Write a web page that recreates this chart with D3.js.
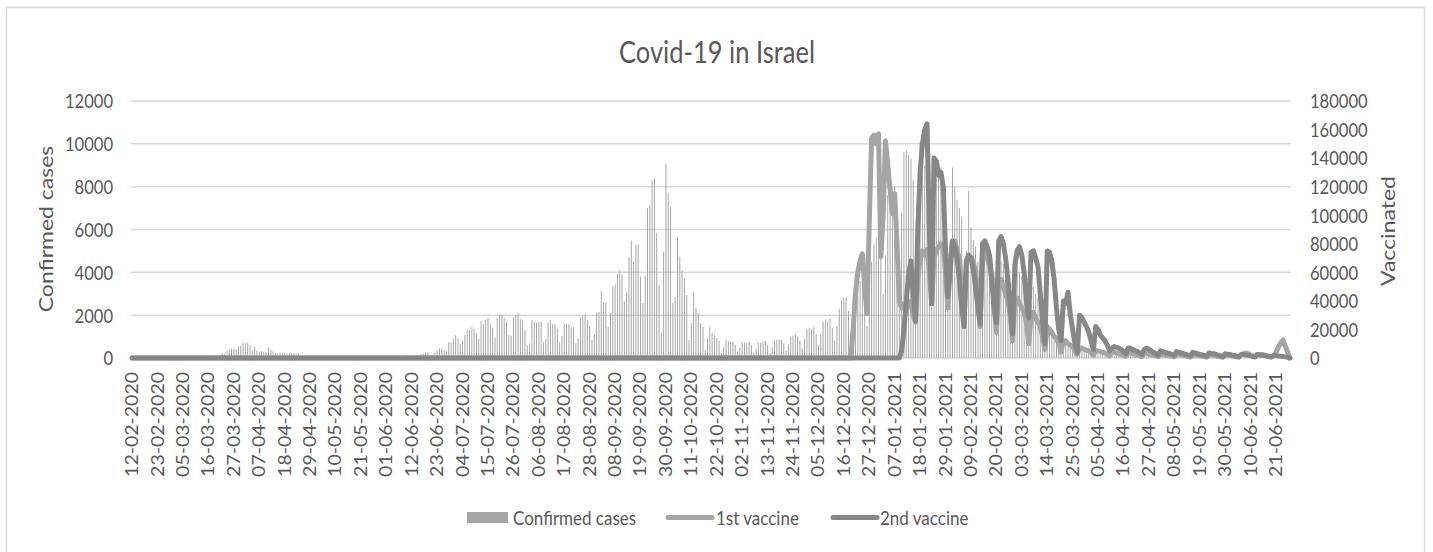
<!DOCTYPE html>
<html>
<head>
<meta charset="utf-8">
<script src="https://cdn.jsdelivr.net/npm/d3@7"></script>
<style>
  html, body { margin: 0; padding: 0; background: #fff; }
  svg text { font-family: Lato, "Open Sans", sans-serif; fill: #595959; }
</style>
</head>
<body>
<svg id="chart" width="1433" height="552"></svg>
<script>
// ---- data -------------------------------------------------------------
// daily series starting 12-02-2020
const startDate = "12-02-2020";

// confirmed cases per day, 12-02-2020 .. 27-06-2021
const confirmedCases = [
  0,0,0,0,0,0,0,0,1,0,0,1,0,1,1,0,0,0,
  3,0,2,1,3,5,4,6,14,12,21,26,25,48,
  52,95,100,130,110,140,
  150,200,180,320,380,420,440,400,530,560,700,690,710,
  600,360,530,330,280,320,300,280,500,400,
  300,230,210,250,220,240,200,210,190,230,180,200,
  60,70,50,45,40,30,25, 40,35,30,20,15,25,20, 20,15,10,20,15,10,8, 15,10,12,20,15,25,18,
  20,30,25,40,30,60,50, 80,70,60,90,80,60,40, 70,90,80,60,
  140,130,60,80,110,140,190,200,250,260,150,120,
  265,370,450,450,370,330,730,730,920,1070,920,650,
  800,1070,1340,1310,1460,1360,1150,
  900,1700,1590,1780,1870,1590,1420,
  950,1870,2000,2000,1870,1700,1070,
  1030,1900,2000,2100,1820,1760,1310,
  580,680,1760,1700,1650,1670,1700,
  730,890,1650,1760,1590,1590,1360,
  730,1030,1590,1590,1590,1430,1460,
  680,920,1870,1950,2030,1780,1500,
  850,1100,2100,2150,3140,2580,2580,
  1450,2100,3330,3440,3950,4100,3900,
  2630,3080,4720,5480,4500,5300,5300,
  3800,2560,3830,7000,7140,8300,8390,
  5830,3400,1170,4950,9060,7700,7050,
  2560,2850,5650,4720,4100,3730,2940,
  840,1630,3080,2330,2100,1630,1450,
  370,930,1450,1160,1070,930,800,
  230,
  500,850,800,750,760,620,300,
  480,750,720,700,780,600,250,
  450,720,700,750,800,600,230,
  500,800,850,870,860,700,350,
  650,1000,1050,1100,1000,800,450,
  900,1350,1400,1350,1450,1100,600,
  1100,1700,1800,1700,1850,1400,800,
  1500,2300,2700,2800,2800,2200,1100,
  2300,3000,3400,3600,3500,2900,1500,
  2700,4500,5300,5600,5400,4700,3000,
  4800,7600,8200,7800,8000,6500,4000,
  6800,9600,9700,9500,9300,8300,5500,
  8000,10100,9800,9000,8500,7800,5000,
  6500,8900,8600,8900,8400,8000,4500,
  5500,8900,8000,7400,7000,6600,3500,
  5000,7800,6100,5500,5200,4500,2500,
  3800,5400,5000,4800,4700,4000,2000,
  3000,4500,4400,4200,4000,3500,1800,
  2800,4800,4000,3800,3500,3000,1500,
  2500,3300,3000,2800,2500,2000,900,
  1400,1500,1300,1100,1000,700,400,
  600,900,800,600,500,400,200,
  300,400,350,300,250,200,100,
  150,200,180,150,130,100,60,
  90,120,110,100,90,60,40,
  50,80,70,60,60,40,25,
  40,60,50,50,40,30,20,
  30,45,40,40,35,25,15,
  20,35,30,30,25,20,10,
  15,30,25,25,20,15,8,
  12,20,20,18,15,10,5,
  10,15,15,12,10,8,5,
  8,12,10,10,12,8,5,
  10,15,20,15,20,25,15,
  60,125,110,100,120,130,80,
  50
];

// vaccinations per day, 19-12-2020 .. 27-06-2021 (zero before that)
const vaccineStart = "19-12-2020";
const firstDose = [
  0,20000,45000,60000,68000,73000,50000,
  31000,95000,154000,156000,150000,157000,71000,
  100000,152000,135000,118000,101000,115000,80000,
  40000,35000,38000,36000,40000,38000,30000,
  25000,55000,70000,75000,72000,76000,60000,
  38000,70000,75000,78000,80000,78000,60000,
  35000,68000,80000,82000,75000,70000,50000,
  25000,65000,72000,70000,68000,60000,45000,
  22000,70000,75000,70000,65000,55000,40000,
  18000,50000,55000,50000,45000,40000,30000,
  12000,40000,42000,38000,35000,32000,25000,
  10000,30000,32000,28000,25000,22000,15000,
  6000,22000,20000,18000,15000,14000,10000,
  4000,12000,12000,10000,9000,8000,5000,
  2500,7000,7000,6000,5500,5000,3500,
  2000,5000,5000,4500,4000,3500,2500,
  1500,4000,4000,3500,3000,2500,2000,
  1200,3500,3500,3000,2500,2000,1500,
  1000,3000,3000,2500,2500,2000,1500,
  900,2500,2500,2000,2000,1500,1200,
  800,2500,2500,2000,2000,1500,1000,
  700,2000,2000,2000,1500,1200,1000,
  600,2000,2000,1800,1500,1000,800,
  500,2000,2000,1800,1500,1000,800,
  600,2500,3000,3500,3000,2000,1200,
  800,2500,2500,2500,2000,1500,1000,
  600,1500,4000,7500,10500,12600,8500,
  4200,0
];
const secondDose = [
  0,0,0,0,0,0,0,0,0,0,0,0,0,0,0,0,0,0,0,0,0,0,
  5000,20000,40000,58000,68000,45000,26000,
  90000,130000,150000,160000,164000,90000,38000,
  140000,138000,128000,130000,120000,75000,43000,
  60000,82000,78000,70000,55000,35000,22000,
  68000,72000,70000,62000,50000,35000,24000,
  80000,82000,78000,72000,55000,35000,25000,
  82000,85000,80000,70000,55000,35000,17000,
  65000,75000,78000,72000,60000,40000,28000,
  74000,75000,70000,64000,45000,25000,10000,
  75000,74000,68000,55000,35000,20000,12000,
  40000,38000,46000,30000,20000,10000,4000,
  30000,28000,25000,22000,18000,12000,6000,
  22000,20000,16000,14000,12000,9000,5000,
  7000,8000,7500,7000,6000,4500,3000,
  7000,7000,6000,5000,4500,3500,2500,
  6000,7000,6000,5000,4000,3000,2000,
  5000,4500,4000,3500,3000,2500,1800,
  4500,4000,3500,3000,2500,2000,1500,
  4000,3500,3000,2500,2200,1800,1200,
  3500,3000,3000,2500,2000,1500,1000,
  3000,2500,2500,2000,1800,1200,900,
  2500,2500,2000,2000,1500,1200,800,
  2500,2000,2000,1800,1500,1000,800,
  2000,1800,1500,1200,1000,800,500,0
];

const leftTicks = [0, 2000, 4000, 6000, 8000, 10000, 12000];
const rightTicks = [0, 20000, 40000, 60000, 80000, 100000, 120000, 140000, 160000, 180000];
const labelEvery = 11;

const titleText = "Covid-19 in Israel";
const leftTitle = "Confirmed cases";
const rightTitle = "Vaccinated";
const seriesNames = ["Confirmed cases", "1st vaccine", "2nd vaccine"];

// ---- build ------------------------------------------------------------
const parse = d3.timeParse("%d-%m-%Y");
const fmt = d3.timeFormat("%d-%m-%Y");
const t0 = parse(startDate);
const N = confirmedCases.length;
const dates = d3.range(N).map(i => d3.timeDay.offset(t0, i));
const vOffset = d3.timeDay.count(t0, parse(vaccineStart));
const pad = v => d3.range(N).map(i => (i < vOffset ? 0 : (v[i - vOffset] ?? 0)));
const dose1 = pad(firstDose);
const dose2 = pad(secondDose);

const SX = 0.85; // narrow glyph look
const colors = { bars: "#a5a5a5", d1: "#a5a5a5", d2: "#878787", text: "#595959", grid: "#d9d9d9" };

const svg = d3.select("#chart");
const plotL = 131, plotR = 1291, plotT = 101, plotB = 358;

svg.append("rect")
  .attr("x", 6.5).attr("y", 7.5).attr("width", 1418).attr("height", 600)
  .attr("fill", "none").attr("stroke", colors.grid).attr("stroke-width", 1.5);

const x = d3.scaleBand().domain(d3.range(N)).range([plotL, plotR]).padding(0);
const bw = x.bandwidth();
const yL = d3.scaleLinear().domain([0, 12000]).range([plotB, plotT]);
const yR = d3.scaleLinear().domain([0, 180000]).range([plotB, plotT]);

// gridlines
svg.append("g").selectAll("line").data(leftTicks).join("line")
  .attr("x1", plotL).attr("x2", plotR)
  .attr("y1", d => yL(d)).attr("y2", d => yL(d))
  .attr("stroke", colors.grid).attr("stroke-width", 1.5);

// bars
const barW = bw * 0.42;
svg.append("g").selectAll("rect").data(confirmedCases).join("rect")
  .attr("x", (d, i) => x(i) + (bw - barW) / 2)
  .attr("width", barW)
  .attr("y", d => yL(d))
  .attr("height", d => plotB - yL(d))
  .attr("fill", colors.bars);

// vaccine lines
const line = d3.line().x((d, i) => x(i) + bw / 2);
svg.append("path").datum(dose1)
  .attr("d", line.y(d => yR(d)))
  .attr("fill", "none").attr("stroke", colors.d1).attr("stroke-width", 5)
  .attr("stroke-linejoin", "round").attr("stroke-linecap", "round");
svg.append("path").datum(dose2)
  .attr("d", line.y(d => yR(d)))
  .attr("fill", "none").attr("stroke", colors.d2).attr("stroke-width", 5)
  .attr("stroke-linejoin", "round").attr("stroke-linecap", "round");

// axes
function styleAxis(g) {
  g.attr("font-family", null).attr("font-size", null);
  g.select(".domain").remove();
  g.selectAll(".tick line").remove();
}
const gL = svg.append("g").attr("transform", "translate(113,0)")
  .call(d3.axisLeft(yL).tickValues(leftTicks).tickSize(0).tickPadding(0).tickFormat(d3.format("d")));
styleAxis(gL);
gL.selectAll("text").attr("x", 0).attr("dy", "0.35em")
  .attr("transform", `scale(${SX},1)`).style("font-size", "19.5px");

const gR = svg.append("g").attr("transform", "translate(1310,0)")
  .call(d3.axisRight(yR).tickValues(rightTicks).tickSize(0).tickPadding(0).tickFormat(d3.format("d")));
styleAxis(gR);
gR.selectAll("text").attr("x", 0).attr("dy", "0.35em")
  .attr("transform", `scale(${SX},1)`).style("font-size", "19.5px");

const gB = svg.append("g").attr("transform", "translate(0,372)")
  .call(d3.axisBottom(x).tickValues(d3.range(0, N, labelEvery)).tickSize(0).tickPadding(0)
    .tickFormat(i => fmt(dates[i])));
styleAxis(gB);
gB.selectAll("text").attr("x", 0).attr("y", 0).attr("dy", "0.36em")
  .attr("text-anchor", "end")
  .attr("transform", `scale(${SX},1) rotate(-90)`).style("font-size", "19.5px");

// titles
function label(txt, tx, ty, size, anchor, rot) {
  svg.append("text")
    .attr("transform", `translate(${tx},${ty}) scale(${SX},1)` + (rot ? ` rotate(${rot})` : ""))
    .attr("text-anchor", anchor).attr("dy", "0.35em")
    .style("font-size", size + "px").text(txt);
}
label(titleText, 717, 52, 30, "middle");
label(leftTitle, 46, 229, 23, "middle", -90);
label(rightTitle, 1388, 231, 23, "middle", -90);

// legend
const lg = svg.append("g");
lg.append("rect").attr("x", 467).attr("y", 512).attr("width", 41).attr("height", 11).attr("fill", colors.bars);
lg.append("line").attr("x1", 668).attr("x2", 712).attr("y1", 517.5).attr("y2", 517.5)
  .attr("stroke", colors.d1).attr("stroke-width", 5).attr("stroke-linecap", "round");
lg.append("line").attr("x1", 833).attr("x2", 877).attr("y1", 517.5).attr("y2", 517.5)
  .attr("stroke", colors.d2).attr("stroke-width", 5).attr("stroke-linecap", "round");
[[seriesNames[0], 513], [seriesNames[1], 716], [seriesNames[2], 880]].forEach(([t, lx]) => {
  lg.append("text").attr("transform", `translate(${lx},518) scale(${SX},1)`)
    .attr("dy", "0.35em").style("font-size", "20px").text(t);
});
</script>
</body>
</html>
